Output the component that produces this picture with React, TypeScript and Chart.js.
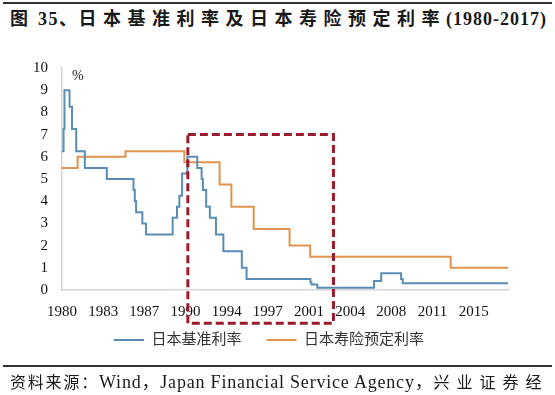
import React, { useEffect, useRef } from 'react';
import { Chart, registerables } from 'chart.js';

Chart.register(...registerables);

const TITLE_PARTS = ['图', ' 35、', '日本基准利率及日本寿险预定利率', '(1980-2017)'];
const SOURCE_PARTS = ['资料来源：', 'Wind，Japan Financial Service Agency，', '兴业证券经'];
const SERIES_NAMES = ['日本基准利率', '日本寿险预定利率'];
const UNIT_LABEL = '%';

// Bank of Japan base rate: change points (decimal year) and new level (%)
const BASE_RATE_YEARS = [
  1980.0, 1980.13, 1980.21, 1980.64, 1980.85, 1981.21, 1981.94, 1983.81,
  1986.08, 1986.19, 1986.3, 1986.83, 1987.14, 1989.41, 1989.78, 1989.98,
  1990.21, 1990.66, 1991.5, 1991.87, 1991.98, 1992.26, 1992.57, 1993.09,
  1993.72, 1995.29, 1995.69, 2001.12, 2001.21, 2001.71, 2006.53, 2007.14,
  2008.83, 2008.97, 2017.92,
];
const BASE_RATE_VALUES = [
  6.25, 7.25, 9.0, 8.25, 7.25, 6.25, 5.5, 5.0,
  4.5, 4.0, 3.5, 3.0, 2.5, 3.25, 3.75, 4.25,
  5.25, 6.0, 5.5, 5.0, 4.5, 3.75, 3.25, 2.5,
  1.75, 1.0, 0.5, 0.35, 0.25, 0.1, 0.4, 0.75,
  0.5, 0.3, 0.3,
];

// Japanese life insurance assumed (guaranteed) rate
const INSURANCE_RATE_YEARS = [
  1980.0, 1981.33, 1985.4, 1990.4, 1993.4, 1994.4, 1996.3, 1999.35, 2001.1, 2013.05, 2017.92,
];
const INSURANCE_RATE_VALUES = [
  5.5, 6.0, 6.25, 5.75, 4.75, 3.75, 2.75, 2.0, 1.5, 1.0, 1.0,
];

const X_MIN = 1980;
const X_MAX = 2017.92;
const X_TICK_YEARS = [1980, 1983.5, 1987, 1990.5, 1994, 1997.5, 2001, 2004.5, 2008, 2011.5, 2015];
const X_TICK_LABELS = ['1980', '1983', '1987', '1990', '1994', '1997', '2001', '2004', '2008', '2011', '2015'];
const Y_MIN = 0;
const Y_MAX = 10;

// Highlighted period (red dashed box), in data units
const HIGHLIGHT_FROM = 1990.7;
const HIGHLIGHT_TO = 2003.08;
const HIGHLIGHT_TOP = 7.0;
const HIGHLIGHT_BOTTOM = -1.5;

const BLUE = '#5a8db4';
const ORANGE = '#e0944f';
const SERIF = "'Liberation Serif', 'Times New Roman', serif";
const CJK = "'Liberation Serif', 'Noto Sans CJK SC', serif";
const LEGEND_GAP = 17.5;

const overlayPlugin = {
  id: 'overlay',
  afterLayout(chart: any) {
    const lg = chart.legend;
    if (lg) {
      const target = chart.chartArea.bottom + LEGEND_GAP;
      const d = lg.top - target;
      lg.top -= d;
      lg.bottom -= d;
    }
  },
  afterDatasetsDraw(chart: any) {
    const { ctx, chartArea, scales } = chart;
    const x = scales.x;
    const y = scales.y;
    ctx.save();
    ctx.font = `14px ${SERIF}`;
    ctx.fillStyle = '#222';
    ctx.textAlign = 'left';
    ctx.textBaseline = 'middle';
    ctx.fillText(UNIT_LABEL, chartArea.left + 10, chartArea.top + 8);

    const l = x.getPixelForValue(HIGHLIGHT_FROM);
    const r = x.getPixelForValue(HIGHLIGHT_TO);
    const t = y.getPixelForValue(HIGHLIGHT_TOP);
    const b = y.getPixelForValue(HIGHLIGHT_BOTTOM);
    ctx.setLineDash([8, 4]);
    ctx.lineWidth = 3;
    ctx.strokeStyle = '#9b1b2e';
    ctx.strokeRect(l, t, r - l, b - t);
    ctx.restore();
  },
};

export default function App() {
  const canvasRef = useRef<HTMLCanvasElement | null>(null);

  useEffect(() => {
    const canvas = canvasRef.current;
    if (!canvas) return;
    const toPoints = (xs: number[], ys: number[]) => xs.map((v, i) => ({ x: v, y: ys[i] }));
    const chart = new Chart(canvas, {
      type: 'line',
      data: {
        datasets: [
          {
            label: SERIES_NAMES[0],
            data: toPoints(BASE_RATE_YEARS, BASE_RATE_VALUES),
            borderColor: BLUE,
            backgroundColor: BLUE,
            borderWidth: 2,
            pointRadius: 0,
            pointStyle: 'line',
            stepped: true,
          },
          {
            label: SERIES_NAMES[1],
            data: toPoints(INSURANCE_RATE_YEARS, INSURANCE_RATE_VALUES),
            borderColor: ORANGE,
            backgroundColor: ORANGE,
            borderWidth: 2,
            pointRadius: 0,
            pointStyle: 'line',
            stepped: true,
          },
        ],
      },
      options: {
        responsive: false,
        animation: false,
        devicePixelRatio: 1,
        layout: { padding: { top: 68, left: 30, right: 47, bottom: 21 } },
        plugins: {
          legend: {
            position: 'bottom',
            labels: {
              usePointStyle: true,
              pointStyleWidth: 30,
              padding: 25,
              color: '#333',
              font: { size: 15, family: CJK },
            },
          },
          tooltip: { enabled: false },
        },
        scales: {
          x: {
            type: 'linear',
            min: X_MIN,
            max: X_MAX,
            afterBuildTicks: (s: any) => {
              s.ticks = X_TICK_YEARS.map((v) => ({ value: v }));
            },
            afterFit: (s: any) => {
              s.height = 34;
            },
            ticks: {
              autoSkip: false,
              maxRotation: 0,
              padding: 13,
              color: '#111',
              font: { size: 15, family: SERIF },
              callback: (_v: any, i: number) => X_TICK_LABELS[i],
            },
            grid: { display: false, drawTicks: false },
            border: { color: '#d4d4d4', width: 1.5 },
          },
          y: {
            min: Y_MIN,
            max: Y_MAX,
            afterFit: (s: any) => {
              s.width = 32;
            },
            ticks: {
              stepSize: 1,
              padding: 14,
              color: '#111',
              font: { size: 15, family: SERIF },
            },
            grid: { display: false, drawTicks: false },
            border: { color: '#d4d4d4', width: 1.5 },
          },
        },
      },
      plugins: [overlayPlugin],
    });
    return () => chart.destroy();
  }, []);

  const cjkTitle = { letterSpacing: 6.5, fontSize: 18 };
  const latinTitle = { letterSpacing: 1, fontSize: 18 };

  return (
    <div style={{ position: 'absolute', left: 0, top: 0, width: 555, height: 395, background: '#fff', overflow: 'hidden' }}>
      <div style={{ position: 'absolute', left: 3, top: 2, width: 549, height: 0, borderTop: '2px solid #333' }} />
      <div
        style={{
          position: 'absolute',
          left: 10,
          top: 9,
          whiteSpace: 'nowrap',
          fontFamily: CJK,
          fontWeight: 'bold',
          lineHeight: '20px',
          color: '#1a1a1a',
        }}
      >
        <span style={{ ...cjkTitle, letterSpacing: 4 }}>{TITLE_PARTS[0]}</span>
        <span style={{ ...latinTitle, letterSpacing: 1.5 }}>{TITLE_PARTS[1]}</span>
        <span style={cjkTitle}>{TITLE_PARTS[2]}</span>
        <span style={latinTitle}>{TITLE_PARTS[3]}</span>
      </div>
      <canvas ref={canvasRef} width={555} height={395} style={{ position: 'absolute', left: 0, top: 0, width: 555, height: 395 }} />
      <div style={{ position: 'absolute', left: 3, top: 365, width: 549, height: 0, borderTop: '2px solid #333' }} />
      <div
        style={{
          position: 'absolute',
          left: 10,
          top: 372,
          whiteSpace: 'nowrap',
          fontFamily: CJK,
          fontSize: 16,
          lineHeight: '20px',
          color: '#1a1a1a',
        }}
      >
        <span style={{ letterSpacing: 1.8 }}>{SOURCE_PARTS[0]}</span>
        <span style={{ fontSize: 18, letterSpacing: 0.8 }}>{SOURCE_PARTS[1]}</span>
        <span style={{ letterSpacing: 7 }}>{SOURCE_PARTS[2]}</span>
      </div>
    </div>
  );
}
